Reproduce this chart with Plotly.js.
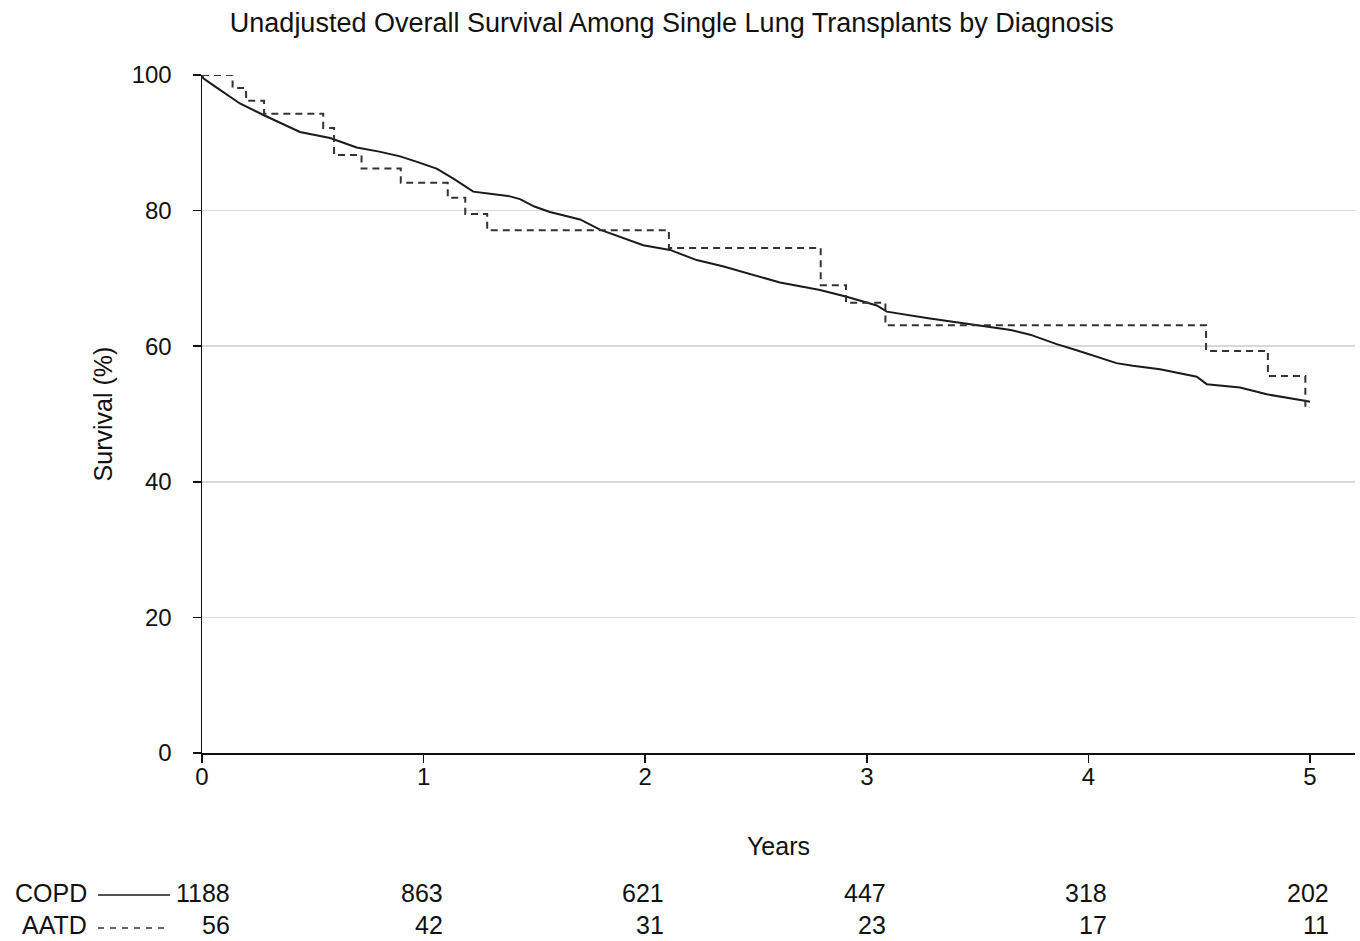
<!DOCTYPE html>
<html>
<head>
<meta charset="utf-8">
<script src="https://cdn.plot.ly/plotly-3.0.1.min.js"></script>
<style>html,body{margin:0;padding:0;background:#fff;}#chart{width:1360px;height:941px;}</style>
</head>
<body>
<div id="chart"></div>
<script>
// COPD (solid) Kaplan-Meier curve
const copdYears = [0, 0.006, 0.05, 0.096, 0.171, 0.277, 0.36, 0.442, 0.578, 0.698, 0.8, 0.894, 0.96, 1.029, 1.059, 1.14, 1.224, 1.3, 1.39, 1.435, 1.5, 1.57, 1.706, 1.796, 1.9, 1.991, 2.112, 2.232, 2.35, 2.458, 2.608, 2.789, 2.909, 3.045, 3.09, 3.285, 3.51, 3.65, 3.737, 3.857, 3.947, 4.037, 4.127, 4.2, 4.323, 4.489, 4.534, 4.684, 4.805, 4.97, 5.0];
const copdSurv  = [100, 99.5, 98.5, 97.5, 95.8, 94.1, 92.8, 91.6, 90.7, 89.3, 88.7, 88.0, 87.3, 86.6, 86.2, 84.6, 82.8, 82.5, 82.1, 81.7, 80.6, 79.8, 78.7, 77.2, 76.0, 74.9, 74.2, 72.7, 71.8, 70.8, 69.4, 68.3, 67.3, 66.0, 65.1, 64.1, 63.0, 62.4, 61.7, 60.3, 59.4, 58.5, 57.5, 57.1, 56.6, 55.5, 54.4, 53.9, 52.9, 52.0, 51.8];

// AATD (dashed) step curve
const aatdYears = [0, 0.138, 0.199, 0.28, 0.547, 0.596, 0.72, 0.897, 1.109, 1.188, 1.287, 2.107, 2.792, 2.906, 3.084, 4.531, 4.81, 4.979, 5.0];
const aatdSurv  = [100, 98.1, 96.2, 94.3, 92.2, 88.2, 86.2, 84.1, 81.9, 79.5, 77.1, 74.5, 69.0, 66.4, 63.1, 59.3, 55.6, 51.0, 51.0];

// Numbers at risk
const riskYears = [0, 1, 2, 3, 4, 5];
const copdRisk = [1188, 863, 621, 447, 318, 202];
const aatdRisk = [56, 42, 31, 23, 17, 11];
const groupLabels = ["COPD", "AATD"];

const yTicks = [0, 20, 40, 60, 80, 100];
const xTicks = [0, 1, 2, 3, 4, 5];

const FONT = "Arial, 'Liberation Sans', sans-serif";
const INK = "#111";

const traces = [
  {x: copdYears, y: copdSurv, mode: "lines", line: {color: "#1a1a1a", width: 2}, hoverinfo: "skip", name: groupLabels[0]},
  {x: aatdYears, y: aatdSurv, mode: "lines", line: {color: "#333333", width: 2, dash: "7px,5px", shape: "hv"}, hoverinfo: "skip", name: groupLabels[1]}
];

const L = 202, R = 5, T = 75, B = 188;
const plotW = 1360 - L - R, plotH = 941 - T - B;
const px = p => (p - L) / plotW;
const py = p => (T + plotH - p) / plotH;

const annotations = [];
riskYears.forEach((yr, i) => {
  const shift = i === 0 ? 30 : 21;
  annotations.push({x: yr, xref: "x", y: py(893), yref: "paper", text: String(copdRisk[i]), showarrow: false, xanchor: "right", yanchor: "middle", xshift: shift, font: {family: FONT, size: 25, color: INK}});
  annotations.push({x: yr, xref: "x", y: py(925), yref: "paper", text: String(aatdRisk[i]), showarrow: false, xanchor: "right", yanchor: "middle", xshift: shift, font: {family: FONT, size: 25, color: INK}});
});
annotations.push({x: px(89), xref: "paper", y: py(893), yref: "paper", text: groupLabels[0], showarrow: false, xanchor: "right", yanchor: "middle", font: {family: FONT, size: 25, color: INK}});
annotations.push({x: px(89), xref: "paper", y: py(925), yref: "paper", text: groupLabels[1], showarrow: false, xanchor: "right", yanchor: "middle", font: {family: FONT, size: 25, color: INK}});

const shapes = [
  {type: "line", xref: "paper", yref: "paper", x0: px(98), x1: px(170), y0: py(895), y1: py(895), line: {color: "#1a1a1a", width: 1.5}},
  {type: "line", xref: "paper", yref: "paper", x0: px(98), x1: px(170), y0: py(928), y1: py(928), line: {color: "#333", width: 1.5, dash: "6px,6px"}}
];

const layout = {
  width: 1360, height: 941,
  margin: {l: L, r: R, t: T, b: B, pad: 0},
  paper_bgcolor: "#fff", plot_bgcolor: "#fff",
  showlegend: false,
  font: {family: FONT, size: 24, color: INK},
  title: {text: "Unadjusted Overall Survival Among Single Lung Transplants by Diagnosis", x: 0.494, xanchor: "center", y: 0.976, yanchor: "middle", font: {family: FONT, size: 27, color: INK}},
  xaxis: {
    range: [0, (1355 - 202) / 221.6], tickvals: xTicks, ticktext: xTicks.map(String),
    showgrid: false, zeroline: false, showline: true, linecolor: INK, linewidth: 1.5,
    ticks: "outside", ticklen: 8, tickcolor: INK, tickwidth: 1.5,
    tickfont: {family: FONT, size: 24, color: INK},
    ticklabelstandoff: -6,
    title: {text: "Years", font: {family: FONT, size: 25, color: INK}, standoff: 48}
  },
  yaxis: {
    range: [0, 100], tickvals: yTicks, ticktext: yTicks.map(String),
    showgrid: true, gridcolor: "#d9d9d9", gridwidth: 1.5, zeroline: false,
    showline: true, linecolor: INK, linewidth: 1.5,
    ticks: "outside", ticklen: 8, tickcolor: INK, tickwidth: 1.5,
    tickfont: {family: FONT, size: 24, color: INK},
    ticklabelstandoff: 16,
    title: {text: "Survival (%)", font: {family: FONT, size: 25, color: INK}, standoff: 12}
  },
  annotations: annotations,
  shapes: shapes
};

Plotly.newPlot("chart", traces, layout, {staticPlot: true, displayModeBar: false});
</script>
</body>
</html>
